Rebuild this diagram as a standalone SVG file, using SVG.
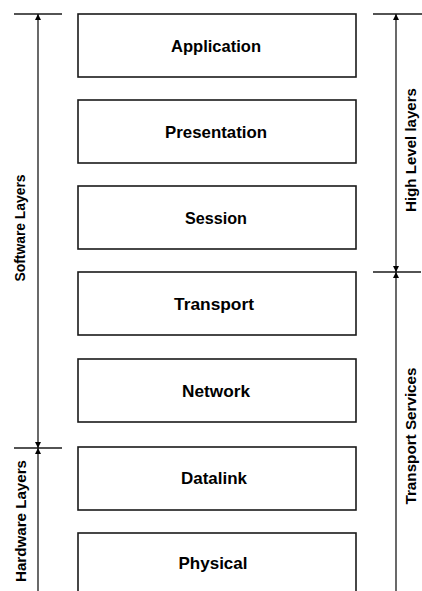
<svg xmlns="http://www.w3.org/2000/svg" width="422" height="591" viewBox="0 0 422 591">
<style>
.box{fill:#fff;stroke:#1a1a1a;stroke-width:1.6}
.lbl{font-family:"Liberation Sans",Arial,sans-serif;font-weight:bold;font-size:16.5px;fill:#000;text-anchor:middle}
.side{font-family:"Liberation Sans",Arial,sans-serif;font-weight:bold;font-size:15px;fill:#000;text-anchor:middle}
.ln{stroke:#1a1a1a;stroke-width:1.3;fill:none}
</style>
<defs>
<marker id="tick" viewBox="-6 -4 8 8" markerWidth="8" markerHeight="8" refX="0" refY="0" orient="auto-start-reverse" markerUnits="userSpaceOnUse">
<path d="M0,0 L-6,-3 L-6,3 Z" fill="#000"/>
</marker>
</defs>
<rect width="422" height="591" fill="#fff"/>
<g id="application"><rect class="box" x="78" y="14" width="278" height="63"/><text class="lbl" x="216" y="52" textLength="90" lengthAdjust="spacingAndGlyphs">Application</text></g>
<g id="presentation"><rect class="box" x="78" y="100" width="278" height="63"/><text class="lbl" x="216" y="138" textLength="102" lengthAdjust="spacingAndGlyphs">Presentation</text></g>
<g id="session"><rect class="box" x="78" y="186" width="278" height="63"/><text class="lbl" x="216" y="224" textLength="62" lengthAdjust="spacingAndGlyphs">Session</text></g>
<g id="transport"><rect class="box" x="78" y="272" width="278" height="63"/><text class="lbl" x="214" y="310" textLength="80" lengthAdjust="spacingAndGlyphs">Transport</text></g>
<g id="network"><rect class="box" x="78" y="359" width="278" height="63"/><text class="lbl" x="216" y="397" textLength="68" lengthAdjust="spacingAndGlyphs">Network</text></g>
<g id="datalink"><rect class="box" x="78" y="447" width="278" height="63"/><text class="lbl" x="214" y="484" textLength="66" lengthAdjust="spacingAndGlyphs">Datalink</text></g>
<g id="physical"><rect class="box" x="78" y="533" width="278" height="64"/><text class="lbl" x="213" y="569" textLength="69" lengthAdjust="spacingAndGlyphs">Physical</text></g>
<g id="connectors">
<line class="ln" x1="14" y1="14" x2="62" y2="14"/>
<line class="ln" x1="14" y1="448" x2="62" y2="448"/>
<line class="ln" x1="373" y1="14" x2="422" y2="14"/>
<line class="ln" x1="373" y1="272" x2="421" y2="272"/>
<line class="ln" x1="38" y1="14" x2="38" y2="448" marker-start="url(#tick)" marker-end="url(#tick)"/>
<line class="ln" x1="38" y1="448" x2="38" y2="591" marker-start="url(#tick)"/>
<line class="ln" x1="396" y1="14" x2="396" y2="272" marker-start="url(#tick)" marker-end="url(#tick)"/>
<line class="ln" x1="396" y1="272" x2="396" y2="591" marker-start="url(#tick)"/>
</g>
<g id="software-layers"><text class="side" transform="translate(25,228) rotate(-90)" textLength="107" lengthAdjust="spacingAndGlyphs">Software Layers</text></g>
<g id="hardware-layers"><text class="side" transform="translate(26,521) rotate(-90)" textLength="122" lengthAdjust="spacingAndGlyphs">Hardware Layers</text></g>
<g id="high-level-layers"><text class="side" transform="translate(416,150) rotate(-90)" textLength="124" lengthAdjust="spacingAndGlyphs">High Level layers</text></g>
<g id="transport-services"><text class="side" transform="translate(416,436) rotate(-90)" textLength="137" lengthAdjust="spacingAndGlyphs">Transport Services</text></g>
</svg>
